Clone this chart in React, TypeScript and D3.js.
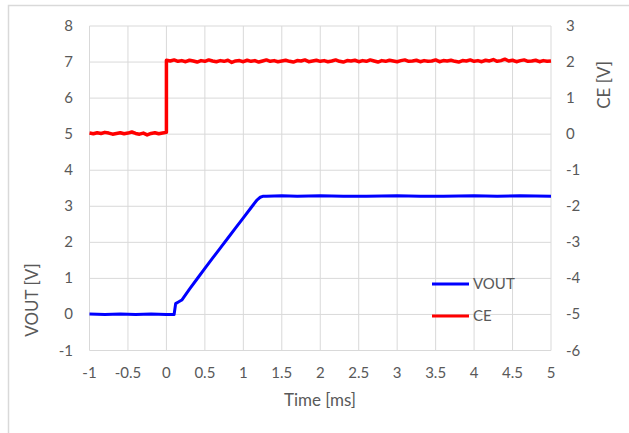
import React from "react";
import * as d3 from "d3";

const xTicks = [-1, -0.5, 0, 0.5, 1, 1.5, 2, 2.5, 3, 3.5, 4, 4.5, 5];
const yLeftTicks = [-1, 0, 1, 2, 3, 4, 5, 6, 7, 8];
const yRightTicks = [-6, -5, -4, -3, -2, -1, 0, 1, 2, 3];

const ceStep = 0.05;
const ceLow = [0.03, 0.01, 0.04, 0.02, 0.05, 0.03, 0.0, 0.02, 0.04, 0.01, 0.03, 0.06, 0.02, 0.0, 0.03, -0.02, 0.02, 0.04, 0.01, 0.03, 0.05];
const ceHigh = [
  2.05, 2.03, 2.06, 2.02, 2.04, 2.01, 2.05, 2.03, 2.0, 2.04,
  2.02, 2.06, 2.03, 2.01, 2.04, 2.02, 2.05, 1.99, 2.03, 2.04,
  2.01, 2.05, 2.02, 2.04, 2.0, 2.03, 2.06, 2.02, 2.04, 2.01,
  2.03, 2.05, 2.02, 2.0, 2.04, 2.03, 2.06, 2.01, 2.03, 2.05,
  2.02, 2.04, 2.01, 2.03, 2.06, 2.02, 2.0, 2.04, 2.03, 2.05,
  2.01, 2.04, 2.02, 2.06, 2.03, 2.0, 2.04, 2.02, 2.05, 2.03,
  2.01, 2.04, 2.06, 2.02, 2.03, 2.05, 2.01, 2.04, 2.02, 2.03,
  2.06, 2.01, 2.04, 2.03, 2.05, 2.02, 2.0, 2.04, 2.03, 2.06,
  2.02, 2.04, 2.01, 2.05, 2.03, 2.07, 2.02, 2.04, 2.08, 2.03,
  2.05, 2.01, 2.04, 2.06, 2.02, 2.03, 2.05, 2.01, 2.04, 2.02,
  2.03,
];

const voutTime = [-1, -0.8, -0.6, -0.4, -0.2, 0, 0.1, 0.12, 0.15, 0.2, 0.3, 0.4, 0.5, 0.6, 0.7, 0.8, 0.9, 1.0, 1.1, 1.18, 1.22, 1.26, 1.3, 1.5, 1.7, 2.0, 2.3, 2.6, 3.0, 3.3, 3.6, 4.0, 4.3, 4.6, 5.0];
const voutValue = [0.01, 0.0, 0.01, 0.0, 0.01, 0.0, 0.0, 0.3, 0.34, 0.4, 0.7, 0.99, 1.28, 1.56, 1.84, 2.12, 2.4, 2.68, 2.96, 3.18, 3.25, 3.28, 3.28, 3.29, 3.28, 3.29, 3.28, 3.28, 3.29, 3.28, 3.28, 3.29, 3.28, 3.29, 3.28];

const FONT = "Lato, 'Open Sans', sans-serif";
const TXT = "#595959";
const GRID = "#d9d9d9";

export default function App() {
  const left = 89.5, right = 551, top = 26, bottom = 350.5;
  const x = d3.scaleLinear().domain([-1, 5]).range([left, right]);
  const yL = d3.scaleLinear().domain([-1, 8]).range([bottom, top]);
  const yR = d3.scaleLinear().domain([-6, 3]).range([bottom, top]);

  const cePts: [number, number][] = [];
  ceLow.forEach((v, i) => cePts.push([-1 + i * ceStep, v]));
  ceHigh.forEach((v, i) => cePts.push([i * ceStep, v]));
  const ceLine = d3.line<[number, number]>().x((d) => x(d[0])).y((d) => yR(d[1]));
  const voutLine = d3.line<number>().x((_, i) => x(voutTime[i])).y((d) => yL(d));

  return (
    <svg width={629} height={433} style={{ position: "absolute", left: 0, top: 0 }} fontFamily={FONT}>
      <rect x={0} y={0} width={629} height={433} fill="#fff" />
      <rect x={8.5} y={5.5} width={640} height={450} fill="none" stroke={GRID} strokeWidth={1.5} />
      {xTicks.map((t) => (
        <line key={"gx" + t} x1={x(t)} x2={x(t)} y1={top} y2={bottom} stroke={GRID} strokeWidth={1} />
      ))}
      {yLeftTicks.map((t) => (
        <line key={"gy" + t} x1={left} x2={right} y1={yL(t)} y2={yL(t)} stroke={GRID} strokeWidth={1} />
      ))}
      {xTicks.map((t) => (
        <text key={"tx" + t} x={x(t)} y={378} textAnchor="middle" fontSize={15} fill={TXT}>{t}</text>
      ))}
      {yLeftTicks.map((t) => (
        <text key={"tl" + t} x={73} y={yL(t) + 5} textAnchor="end" fontSize={15} fill={TXT}>{t}</text>
      ))}
      {yRightTicks.map((t) => (
        <text key={"tr" + t} x={566} y={yR(t) + 5} textAnchor="start" fontSize={15} fill={TXT}>{t}</text>
      ))}
      <text x={320} y={406} textAnchor="middle" fontSize={17} fill={TXT}>Time [ms]</text>
      <text transform="translate(38,300) rotate(-90)" textAnchor="middle" fontSize={17} fill={TXT}>VOUT [V]</text>
      <text transform="translate(610,85) rotate(-90)" textAnchor="middle" fontSize={17} fill={TXT}>CE [V]</text>
      <path d={ceLine(cePts) || ""} fill="none" stroke="#ff0000" strokeWidth={3.5} strokeLinejoin="round" />
      <path d={voutLine(voutValue) || ""} fill="none" stroke="#0000ff" strokeWidth={3} strokeLinejoin="round" />
      <line x1={432} x2={469} y1={284} y2={284} stroke="#0000ff" strokeWidth={3} />
      <text x={473} y={289} fontSize={15} fill={TXT}>VOUT</text>
      <line x1={432} x2={469} y1={316} y2={316} stroke="#ff0000" strokeWidth={3} />
      <text x={473} y={321} fontSize={15} fill={TXT}>CE</text>
    </svg>
  );
}
